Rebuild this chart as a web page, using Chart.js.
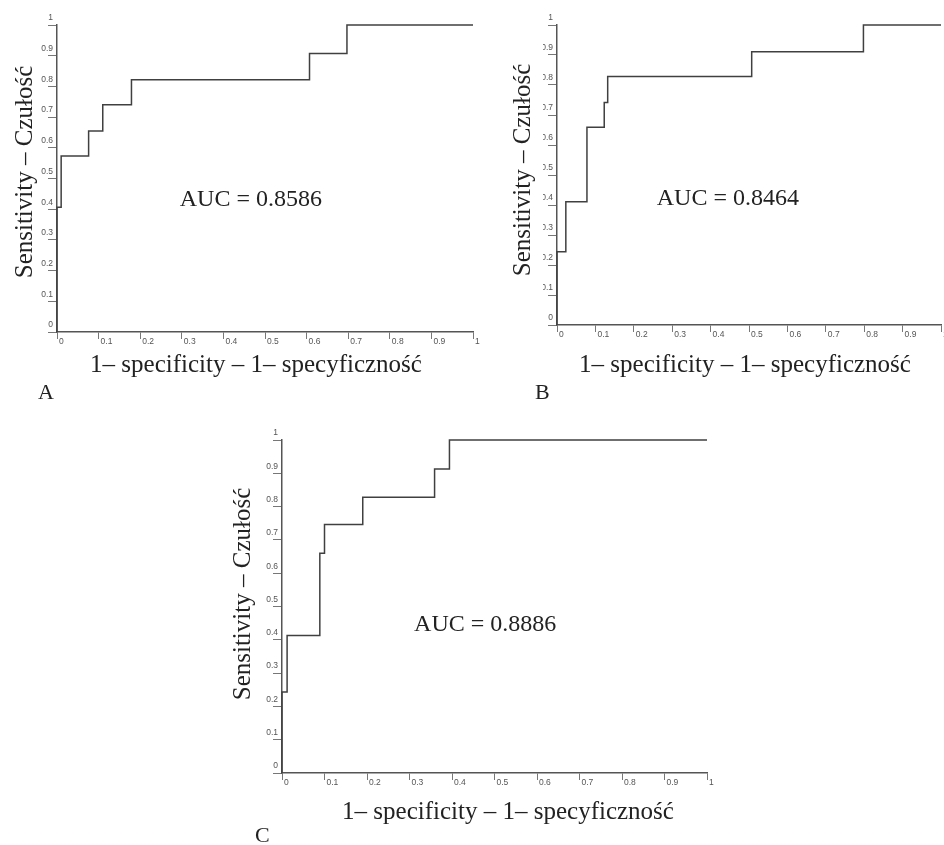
<!DOCTYPE html>
<html><head><meta charset="utf-8">
<script src="https://cdn.jsdelivr.net/npm/chart.js@4.4.1/dist/chart.umd.min.js"></script>
<style>
html,body{margin:0;padding:0;background:#fff;overflow:hidden;width:944px;height:845px;position:relative;}
canvas{position:absolute;}
.lbl{position:absolute;font-family:'Liberation Serif','Times New Roman',serif;font-size:22px;color:#222;line-height:22px;}
.crop{position:absolute;background:#fff;}
</style></head><body>
<canvas id="cA" width="490" height="380" style="left:0;top:0"></canvas>
<canvas id="cB" width="460" height="380" style="left:500px;top:0"></canvas>
<canvas id="cC" width="507" height="412" style="left:220px;top:415px"></canvas>
<div class="crop" style="left:537px;top:40px;width:6px;height:262px"></div>
<div class="lbl" style="left:38px;top:381px">A</div>
<div class="lbl" style="left:535px;top:381px">B</div>
<div class="lbl" style="left:255px;top:824px">C</div>
<script>
// ---- data ----
const xTickLabels = ['0','0.1','0.2','0.3','0.4','0.5','0.6','0.7','0.8','0.9','1'];
const yTickLabels = ['0','0.1','0.2','0.3','0.4','0.5','0.6','0.7','0.8','0.9','1'];
const xTitle = '1– specificity – 1– specyficzność';
const yTitle = 'Sensitivity – Czułość';

// ROC vertices (1-specificity, sensitivity)
const fprA = [0, 0, 0.01, 0.076, 0.11, 0.179, 0.607, 0.697, 1];
const tprA = [0, 0.406, 0.573, 0.655, 0.74, 0.822, 0.907, 1, 1];
const fprB = [0, 0, 0.023, 0.078, 0.123, 0.132, 0.507, 0.798, 1];
const tprB = [0, 0.244, 0.411, 0.659, 0.742, 0.828, 0.911, 1, 1];
const fprC = [0, 0, 0.012, 0.089, 0.1, 0.19, 0.359, 0.394, 1];
const tprC = [0, 0.243, 0.413, 0.66, 0.746, 0.828, 0.913, 1, 1];
const aucA = 'AUC = 0.8586';
const aucB = 'AUC = 0.8464';
const aucC = 'AUC = 0.8886';

// ---- drawing ----
const SERIF = '"Liberation Serif", "Times New Roman", serif';
const textPlugin = {
  id: 'texts',
  afterDraw(chart, args, opts) {
    const {ctx, scales: {x, y}} = chart;
    ctx.save();
    ctx.font = '24px ' + SERIF;
    ctx.fillStyle = '#222';
    ctx.textAlign = 'center';
    ctx.textBaseline = 'middle';
    ctx.fillText(opts.auc, x.getPixelForValue(opts.ax), y.getPixelForValue(opts.ay));
    ctx.font = '25px ' + SERIF;
    ctx.fillText(xTitle, opts.xt[0], opts.xt[1]);
    ctx.translate(opts.yt[0], opts.yt[1]);
    ctx.rotate(-Math.PI / 2);
    ctx.fillText(yTitle, 0, 0);
    ctx.restore();
  }
};

function makeChart(id, fpr, tpr, auc, g) {
  const pts = fpr.map((v, i) => ({x: v, y: tpr[i]}));
  const tickFont = {family: '"Liberation Sans", Arial, sans-serif', size: 8.5};
  return new Chart(document.getElementById(id), {
    type: 'scatter',
    data: {datasets: [{data: pts, showLine: true, stepped: 'before', borderColor: '#404040',
      borderWidth: 1.5, pointRadius: 0, fill: false, clip: false}]},
    options: {
      responsive: false, animation: false, events: [],
      layout: {padding: g.pad},
      plugins: {legend: {display: false}, tooltip: {enabled: false},
        texts: {auc: auc, ax: g.ax, ay: g.ay, xt: g.xt, yt: g.yt}},
      scales: {
        x: {
          type: 'linear', position: 'bottom', min: 0, max: 1,
          afterFit: s => { s.height = g.xh; s.paddingLeft = 0; s.paddingRight = 0; },
          border: {display: true, color: '#555', width: 1.5},
          grid: {drawOnChartArea: false, drawTicks: true, tickLength: 7, color: '#777', lineWidth: 1},
          ticks: {stepSize: 0.1, autoSkip: false, maxRotation: 0, minRotation: 0, align: 'start',
            labelOffset: 2, padding: -2, font: tickFont, color: '#555',
            callback: (v, i) => xTickLabels[i]}
        },
        y: {
          type: 'linear', position: 'left', min: 0, max: 1,
          afterFit: s => { s.width = g.yw; s.paddingTop = 0; s.paddingBottom = 0; },
          border: {display: true, color: '#555', width: 1.5},
          grid: {drawOnChartArea: false, drawTicks: true, tickLength: 9, color: '#777', lineWidth: 1},
          ticks: {stepSize: 0.1, autoSkip: false, labelOffset: -7, padding: -5, font: tickFont, color: '#555',
            callback: (v, i) => yTickLabels[i]}
        }
      }
    },
    plugins: [textPlugin]
  });
}

makeChart('cA', fprA, tprA, aucA, {pad: {left: 0, top: 25, right: 17, bottom: 0}, yw: 57, xh: 48,
  ax: 0.466, ay: 0.432, xt: [256, 365], yt: [25, 172]});
makeChart('cB', fprB, tprB, aucB, {pad: {left: 0, top: 25, right: 19, bottom: 0}, yw: 57, xh: 55,
  ax: 0.445, ay: 0.42, xt: [245, 365], yt: [23, 170]});
makeChart('cC', fprC, tprC, aucC, {pad: {left: 0, top: 25, right: 20, bottom: 0}, yw: 62, xh: 54,
  ax: 0.478, ay: 0.444, xt: [288, 397], yt: [23, 179]});
</script>
</body></html>
